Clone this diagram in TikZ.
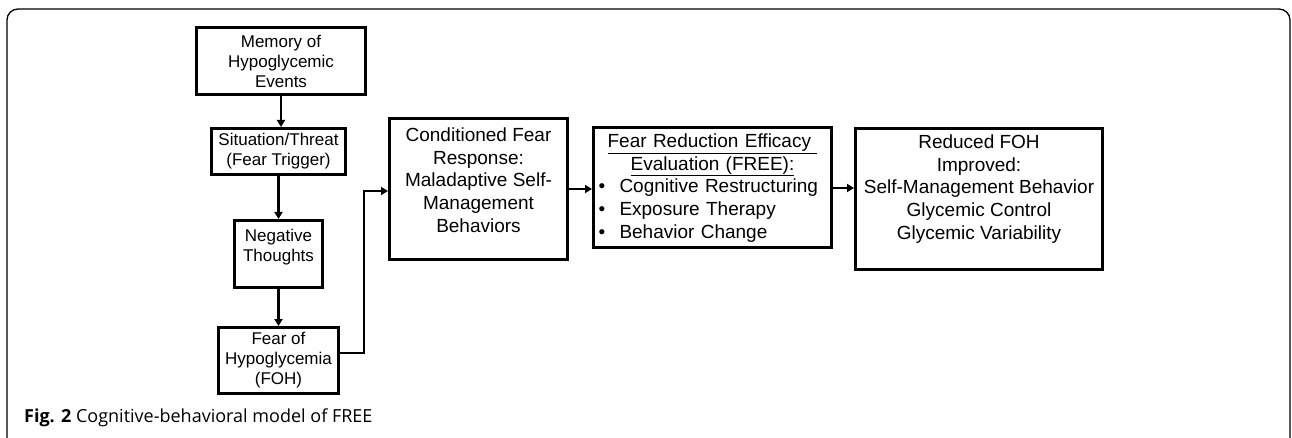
\documentclass[tikz,border=0pt]{standalone}
\usepackage{fontspec}
\setmainfont{Liberation Sans}
\newfontfamily\capfont{Open Sans}
\usetikzlibrary{arrows.meta}
\tikzset{
  box/.style={draw, line width=3pt, inner sep=0pt},
  txtL/.style={font=\fontsize{17}{20}\selectfont, align=center, inner sep=0pt},
  txtR/.style={font=\fontsize{19}{22.7}\selectfont, align=center, inner sep=0pt},
  arw/.style={line width=2.6pt, -{Triangle[length=7pt,width=8pt]}},
  frame/.style={line width=1.3pt, rounded corners=11pt},
}
\begin{document}
\begin{tikzpicture}[x=1pt,y=-1pt]
\useasboundingbox (0,0) rectangle (1292,438);
\draw[frame] (7,445) -- (7,9) -- (1290,9) -- (1290,445);

% left column
\node[box, txtL, minimum width=169pt, minimum height=67pt] (mem) at (281,61) {Memory of\\Hypoglycemic\\Events};
\node[box, txtL, minimum width=134pt, minimum height=46pt] (sit) at (278.5,151.5) {Situation/Threat\\(Fear Trigger)};
\node[box, minimum width=88pt, minimum height=67pt] (neg) at (278.5,254) {};
\node[txtL] (negT) at (278.5,247) {Negative\\Thoughts};
\node[box, txtL, minimum width=120pt, minimum height=66pt] (foh) at (278.5,360.5) {Fear of\\Hypoglycemia\\(FOH)};

% right boxes
\node[box, minimum width=178pt, minimum height=141pt] (cond) at (478.5,189) {};
\node[txtR] (condT) at (478.5,180) {Conditioned Fear\\Response:\\Maladaptive Self-\\Management\\Behaviors};

\node[box, minimum width=238pt, minimum height=120pt] (free) at (712.5,187.5) {};
\node[txtR, align=left, text width=230pt] (freeT) at (712.5,188) {%
\makebox[\linewidth][c]{\underline{Fear Reduction Efficacy~}}\\
\makebox[\linewidth][c]{\underline{Evaluation (FREE):}}\\
\makebox[22pt][l]{\hspace{1pt}\textbullet}Cognitive Restructuring\\
\makebox[22pt][l]{\hspace{1pt}\textbullet}Exposure Therapy\\
\makebox[22pt][l]{\hspace{1pt}\textbullet}Behavior Change};

\node[box, minimum width=247pt, minimum height=141pt] (red) at (979,199) {};
\node[txtR] (redT) at (979,189) {Reduced FOH\\Improved:\\Self-Management Behavior\\Glycemic Control\\Glycemic Variability};

% connectors
\draw[arw] (mem.south) -- (mem.south |- sit.north);
\draw[arw] (sit.south) -- (neg.north);
\draw[arw] (neg.south) -- (foh.north);
\coordinate (jb) at (364,353);
\coordinate (jt) at (364,191);
\draw[arw] (foh.east |- jb) -- (jb) -- (jt) -- (cond.west |- jt);
\coordinate (c1) at (0,189);
\draw[arw] (cond.east |- c1) -- (free.west |- c1);
\coordinate (c2) at (0,188);
\draw[arw] (free.east |- c2) -- (red.west |- c2);

% caption
\node[font=\capfont\fontsize{18}{21}\selectfont, anchor=west, inner sep=0pt] (cap) at (24,418) {\textbf{Fig. 2} Cognitive-behavioral model of FREE};
\end{tikzpicture}
\end{document}
